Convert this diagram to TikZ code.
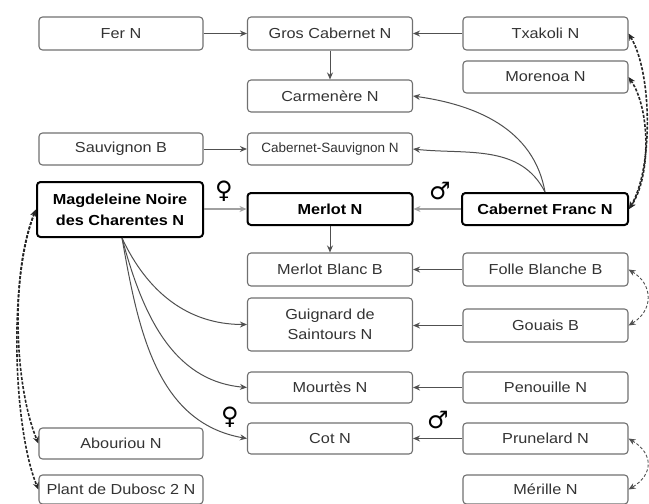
\documentclass[tikz,border=0pt]{standalone}
\usepackage{fontspec}
\setmainfont{Liberation Sans}[FakeStretch=1.12]
\newfontfamily\plainsans{Liberation Sans}
\newfontfamily\symfont{DejaVu Sans}
\usetikzlibrary{arrows.meta}
\definecolor{boxgray}{HTML}{707070}
\definecolor{txtgray}{HTML}{333333}
\definecolor{linegray}{HTML}{505050}
\definecolor{lightline}{HTML}{A0A0A0}
\begin{document}
\begin{tikzpicture}[x=1pt,y=1pt,
  >={Stealth[length=7pt,width=6pt]},
  box/.style={draw=boxgray, line width=1.1pt, rounded corners=3.5pt, minimum width=165pt,
    minimum height=32pt, inner sep=0pt, text=txtgray, align=center,
    font=\fontsize{14.5}{20}\selectfont},
  boldbox/.style={box, draw=black, line width=2pt, text=black,
    font=\fontsize{14.5}{21}\selectfont\bfseries},
  arr/.style={->, draw=linegray, line width=1pt},
  lightarr/.style={->, draw=lightline, line width=1.6pt},
  bigdash/.style={<->, draw=black!85, line width=1.6pt, dash pattern=on 3pt off 1.6pt},
  smalldash/.style={<->, draw=linegray, line width=0.9pt, dash pattern=on 3pt off 2pt},
  sym/.style={inner sep=0pt, text=black, font=\symfont\fontsize{24}{24}\selectfont}
]
\useasboundingbox (0,0) rectangle (649,-504);
% column 1
\node[box, minimum width=164pt, minimum height=33pt] (fer) at (121,-33.5) {Fer N};
\node[box, minimum width=164pt] (sauv) at (121,-149) {Sauvignon B};
\node[boldbox, minimum width=166pt, minimum height=55pt] (mag) at (120,-209.5) {Magdeleine Noire\\des Charentes N};
\node[box, minimum width=164pt, minimum height=31pt] (abou) at (121,-443.5) {Abouriou N};
\node[box, minimum width=164pt, minimum height=29pt] (plant) at (121,-489.5) {Plant de Dubosc 2 N};
% column 2
\node[box, minimum height=33pt] (gros) at (330,-33.5) {Gros Cabernet N};
\node[box] (carm) at (330,-96) {Carmenère N};
\node[box] (cabsauv) at (330,-149) {\plainsans\fontsize{13.5}{16}\selectfont Cabernet-Sauvignon N};
\node[boldbox, minimum height=32pt] (merlot) at (330,-209) {Merlot N};
\node[box, minimum height=33pt] (mb) at (330,-269.5) {Merlot Blanc B};
\node[box, minimum height=53pt] (guig) at (330,-324.5) {Guignard de\\Saintours N};
\node[box, minimum height=31pt] (mour) at (330,-387.5) {Mourtès N};
\node[box, minimum height=31pt] (cot) at (330,-438.5) {Cot N};
% column 3
\node[box, minimum height=33pt] (tx) at (545.5,-33.5) {Txakoli N};
\node[box] (mor) at (545.5,-77) {Morenoa N};
\node[boldbox, minimum width=166pt, minimum height=32pt] (cf) at (545,-209) {Cabernet Franc N};
\node[box, minimum height=33pt] (folle) at (545.5,-269.5) {Folle Blanche B};
\node[box, minimum height=33pt] (gouais) at (545.5,-325.5) {Gouais B};
\node[box, minimum height=31pt] (pen) at (545.5,-387.5) {Penouille N};
\node[box, minimum height=31pt] (prun) at (545.5,-438.5) {Prunelard N};
\node[box, minimum height=29pt] (meri) at (545.5,-489.5) {Mérille N};
% sex symbols
\node[sym] (f1) at (224,-191) {♀};
\node[sym] (m1) at (440,-191) {♂};
\node[sym] (f2) at (230,-417) {♀};
\node[sym] (m2) at (438,-420) {♂};
% straight arrows
\draw[arr] (fer) -- (gros);
\draw[arr] (tx) -- (gros);
\draw[arr] (gros) -- (carm);
\draw[arr] (sauv) -- (cabsauv);
\draw[lightarr] (mag.east |- merlot.west) -- (merlot.west);
\draw[lightarr] (cf) -- (merlot);
\draw[arr] (merlot) -- (mb);
\draw[arr] (folle) -- (mb);
\draw[arr] (gouais.west) -- (guig.east |- gouais.west);
\draw[arr] (pen) -- (mour);
\draw[arr] (prun) -- (cot);
% curved arrows from Cabernet Franc
\draw[arr] (cf.north) to[out=100,in=-8] (carm.east);
\draw[arr] (cf.north) to[out=117,in=-6] (cabsauv.east);
% curved arrows from Magdeleine
\draw[arr] ([xshift=2pt]mag.south) to[out=-65,in=180] (guig.west);
\draw[arr] ([xshift=2pt]mag.south) to[out=-75,in=175] (mour.west);
\draw[arr] ([xshift=2pt]mag.south) to[out=-80,in=170] (cot.west);
% dashed relations
\draw[bigdash] (tx.east) .. controls +(24,-40) and +(24,40) .. (cf.east);
\draw[bigdash] (mor.east) .. controls +(22,-32) and +(22,32) .. (cf.east);
\draw[bigdash] (mag.west) .. controls +(-25,-60) and +(-25,60) .. (abou.west);
\draw[bigdash] (mag.west) .. controls +(-28,-70) and +(-25,60) .. (plant.west);
\draw[smalldash] (folle.east) .. controls +(25,-15) and +(25,15) .. (gouais.east);
\draw[smalldash] (prun.east) .. controls +(25,-15) and +(25,15) .. (meri.east);
\end{tikzpicture}
\end{document}
